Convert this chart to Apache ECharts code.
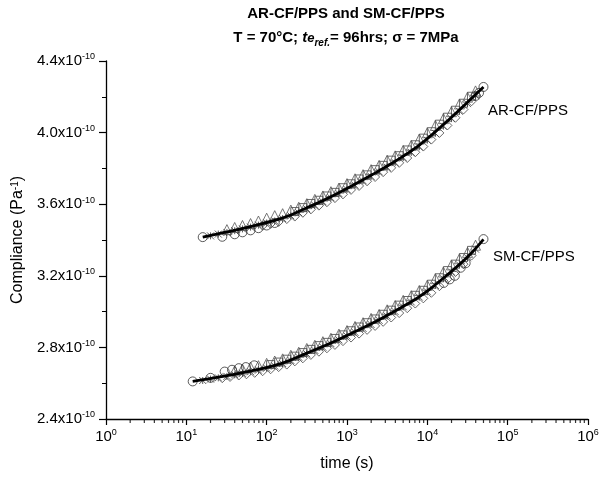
<!DOCTYPE html>
<html>
<head>
<meta charset="utf-8">
<script src="https://cdn.jsdelivr.net/npm/echarts@6/dist/echarts.min.js"></script>
<style>html,body{margin:0;padding:0;background:#fff;}#c{width:611px;height:482px;}</style>
</head>
<body>
<div id="c"></div>
<script>
// Compliance values in units of 1e-10 Pa^-1, time in seconds
var yTicks = [2.4, 2.8, 3.2, 3.6, 4.0, 4.4];
var xTickExp = [0, 1, 2, 3, 4, 5, 6];

var arFit = [[16,3.416],[32,3.445],[63,3.475],[126,3.510],[200,3.540],[316,3.580],[501,3.620],[1000,3.688],[1995,3.762],[3981,3.840],[7943,3.930],[15849,4.045],[31623,4.170],[50000,4.255]];
var smFit = [[12,2.610],[25,2.634],[63,2.668],[150,2.709],[316,2.768],[562,2.815],[1000,2.867],[2512,2.955],[6800,3.063],[10000,3.115],[17500,3.203],[31623,3.305],[50000,3.404]];

var arTri = [[32,3.458],[40,3.470],[50,3.481],[63,3.492],[79,3.506],[100,3.522],[126,3.536],[158,3.547],[200,3.567],[251,3.583],[316,3.603],[398,3.627],[501,3.646],[631,3.670],[794,3.690],[1000,3.715],[1259,3.742],[1585,3.765],[1995,3.793],[2512,3.817],[3162,3.846],[3981,3.870],[5012,3.901],[6310,3.929],[7943,3.964],[10000,3.999],[12589,4.040],[15849,4.078],[19953,4.117],[25119,4.160],[31623,4.198],[39811,4.233]];
var arSq = [[224,3.559],[282,3.581],[355,3.604],[447,3.622],[562,3.646],[708,3.666],[891,3.692],[1122,3.714],[1413,3.741],[1778,3.764],[2239,3.793],[2818,3.817],[3548,3.846],[4467,3.871],[5623,3.903],[7079,3.932],[8913,3.969],[11220,4.005],[14125,4.047],[17783,4.086],[22387,4.125],[28184,4.164],[35481,4.203]];
var arDia = [[89,3.480],[112,3.490],[141,3.501],[178,3.517],[224,3.531],[282,3.552],[355,3.571],[447,3.592],[562,3.611],[708,3.634],[891,3.655],[1122,3.680],[1413,3.702],[1778,3.728],[2239,3.752],[2818,3.779],[3548,3.803],[4467,3.831],[5623,3.858],[7079,3.890],[8913,3.922],[11220,3.961],[14125,3.998],[17783,4.040],[22387,4.083],[28184,4.129],[35481,4.175]];
var arCirc = [[16,3.416],[28,3.418],[40,3.432],[50,3.443],[63,3.454],[79,3.466],[100,3.481],[126,3.495],[40000,4.205],[44000,4.222],[50000,4.255]];
var arStar = [[20,3.423],[25,3.433],[32,3.442],[40,3.452],[50,3.462],[63,3.472],[79,3.483],[100,3.495],[126,3.506],[158,3.520],[200,3.535],[251,3.552],[316,3.574],[398,3.594],[501,3.614],[631,3.636],[794,3.659],[1000,3.682],[1259,3.706],[1585,3.731],[1995,3.755],[2512,3.781],[3162,3.806],[3981,3.832],[5012,3.860],[6310,3.889],[7943,3.921],[10000,3.958],[12589,3.996],[15849,4.036],[19953,4.078],[25119,4.119],[31623,4.162],[39811,4.206]];

var smTri = [[40,2.669],[50,2.679],[63,2.690],[79,2.698],[100,2.711],[126,2.724],[158,2.736],[200,2.756],[251,2.773],[316,2.794],[398,2.812],[501,2.832],[631,2.851],[794,2.874],[1000,2.894],[1259,2.917],[1585,2.938],[1995,2.962],[2512,2.984],[3162,3.010],[3981,3.034],[5012,3.063],[6310,3.089],[7943,3.118],[10000,3.147],[12589,3.184],[15849,3.221],[19953,3.261],[25119,3.295],[31623,3.331],[39811,3.371]];
var smSq = [[112,2.704],[141,2.718],[178,2.734],[224,2.751],[282,2.771],[355,2.789],[447,2.810],[562,2.828],[708,2.850],[891,2.870],[1122,2.893],[1413,2.914],[1778,2.938],[2239,2.959],[2818,2.985],[3548,3.008],[4467,3.036],[5623,3.062],[7079,3.091],[8913,3.119],[11220,3.153],[14125,3.189],[17783,3.229],[22387,3.265],[28184,3.302],[35481,3.342]];
var smDia = [[28,2.628],[35,2.635],[45,2.643],[56,2.650],[71,2.658],[89,2.667],[112,2.678],[141,2.690],[178,2.704],[224,2.722],[282,2.739],[355,2.758],[447,2.776],[562,2.795],[708,2.814],[891,2.835],[1122,2.855],[1413,2.877],[1778,2.898],[2239,2.920],[2818,2.943],[3548,2.967],[4467,2.992],[5623,3.019],[7079,3.045],[8913,3.074],[11220,3.105],[14125,3.142],[17783,3.181],[22387,3.221],[28184,3.265],[35481,3.313]];
var smCirc = [[12,2.610],[20,2.630],[30,2.665],[37,2.675],[45,2.684],[55,2.690],[70,2.700],[16000,3.160],[19000,3.180],[22000,3.200],[26000,3.245],[30000,3.270],[50000,3.405]];
var smStar = [[16,2.615],[20,2.623],[25,2.630],[32,2.638],[40,2.647],[50,2.655],[63,2.664],[79,2.673],[100,2.684],[126,2.696],[158,2.710],[200,2.727],[251,2.745],[316,2.764],[398,2.783],[501,2.801],[631,2.821],[794,2.842],[1000,2.863],[1259,2.884],[1585,2.906],[1995,2.928],[2512,2.951],[3162,2.975],[3981,3.000],[5012,3.027],[6310,3.054],[7943,3.081],[10000,3.111],[12589,3.146],[15849,3.184],[19953,3.222],[25119,3.261],[31623,3.301],[39811,3.349]];

// minor tick positions on the log time axis (2..9 x 10^n)
var xMinorMult = [2, 3, 4, 5, 6, 7, 8, 9];
var xMinorTicks = [];
xTickExp.slice(0, 6).forEach(function (e) { xMinorMult.forEach(function (m) { xMinorTicks.push([m * Math.pow(10, e), yTicks[0]]); }); });

var FONT = 'Liberation Sans, Arial, sans-serif';
var starPath = 'path://M0,0L10,10M10,0L0,10M5,0L5,10';

function mk(name, data, symbol, size, color) {
  return {
    name: name, type: 'scatter', data: data, symbol: symbol, symbolSize: size,
    itemStyle: { color: 'rgba(0,0,0,0)', borderColor: color, borderWidth: 1 },
    silent: true, z: 2
  };
}
function fit(data) {
  return { type: 'line', data: data, smooth: 0.4, showSymbol: false, symbol: 'none',
    lineStyle: { color: '#000', width: 2.8 }, z: 5, silent: true };
}

var chart = echarts.init(document.getElementById('c'), null, { renderer: 'canvas' });
chart.setOption({
  animation: false,
  backgroundColor: '#fff',
  grid: { left: 106, right: 23, top: 61, bottom: 63 },
  xAxis: {
    type: 'log', logBase: 10, min: 1, max: 1e6,
    name: 'time (s)', nameLocation: 'middle', nameGap: 37,
    nameTextStyle: { fontFamily: FONT, fontSize: 16, color: '#000' },
    axisLine: { lineStyle: { color: '#000', width: 1.3 } },
    axisTick: { length: 6, lineStyle: { color: '#000', width: 1.2 } },
    splitLine: { show: false }, minorTick: { show: false },
    axisLabel: {
      margin: 9, color: '#000', fontFamily: FONT,
      formatter: function (v) { var ex = Math.round(Math.log10(v)); return '{b|10}{s|' + ex + '}'; },
      rich: { b: { fontSize: 15, fontFamily: FONT, color: '#000' },
              s: { fontSize: 9, fontFamily: FONT, color: '#000', padding: [0, 0, 8, 0] } }
    }
  },
  yAxis: {
    type: 'value', min: 2.4, max: 4.4, interval: 0.4,
    name: 'Compliance (Pa{s|-1})', nameLocation: 'middle', nameGap: 77, nameRotate: 90,
    nameTextStyle: { fontFamily: FONT, fontSize: 16, color: '#000',
      rich: { s: { fontSize: 10, fontFamily: FONT, color: '#000', verticalAlign: 'top' } } },
    axisLine: { show: true, lineStyle: { color: '#000', width: 1.3 } },
    axisTick: { show: true, length: 7, lineStyle: { color: '#000', width: 1.2 } },
    minorTick: { show: true, splitNumber: 2, length: 4, lineStyle: { color: '#000', width: 1 } },
    splitLine: { show: false },
    axisLabel: {
      margin: 11, color: '#000',
      formatter: function (v) { return '{b|' + v.toFixed(1) + 'x10}{s|-10}'; },
      rich: { b: { fontSize: 15, fontFamily: FONT, color: '#000' },
              s: { fontSize: 9, fontFamily: FONT, color: '#000', padding: [0, 0, 8, 0] } }
    }
  },
  graphic: [
    { type: 'text', z: 10, position: [346, 6], style: { text: 'AR-CF/PPS and SM-CF/PPS', font: 'bold 15px ' + FONT, fill: '#000', align: 'center', verticalAlign: 'top' } },
    { type: 'text', z: 10, position: [346, 28], style: {
      text: '{b|T = 70°C; }{bi|t}{bi2|e}{sub|ref.}{b|= 96hrs; σ = 7MPa}', align: 'center', verticalAlign: 'top',
      rich: {
        b: { font: 'bold 15px ' + FONT, fill: '#000' },
        bi: { font: 'italic bold 15px ' + FONT, fill: '#000' },
        bi2: { font: 'italic bold 13px ' + FONT, fill: '#000' },
        sub: { font: 'italic bold 10px ' + FONT, fill: '#000', padding: [10, 0, 0, 0] }
      } } },
    { type: 'text', position: [488, 103], style: { text: 'AR-CF/PPS', font: '15px ' + FONT, fill: '#000' } },
    { type: 'text', position: [493, 249], style: { text: 'SM-CF/PPS', font: '15px ' + FONT, fill: '#000' } }
  ],
  series: [
    { name: 'xMinor', type: 'scatter', data: xMinorTicks, symbol: 'rect', symbolSize: [1.2, 4],
      symbolOffset: [0, 2], itemStyle: { color: '#000' },
      clip: false, silent: true, z: 1 },
    mk('arStar', arStar, starPath, 7, '#333'),
    mk('arDia', arDia, 'diamond', 9, '#444'),
    mk('arSq', arSq, 'rect', 8, '#444'),
    mk('arTri', arTri, 'triangle', 10, '#555'),
    mk('arCirc', arCirc, 'circle', 9, '#333'),
    fit(arFit),
    mk('smStar', smStar, starPath, 7, '#333'),
    mk('smDia', smDia, 'diamond', 9, '#444'),
    mk('smSq', smSq, 'rect', 8, '#444'),
    mk('smTri', smTri, 'triangle', 10, '#555'),
    mk('smCirc', smCirc, 'circle', 9, '#333'),
    fit(smFit)
  ]
});
</script>
</body>
</html>
